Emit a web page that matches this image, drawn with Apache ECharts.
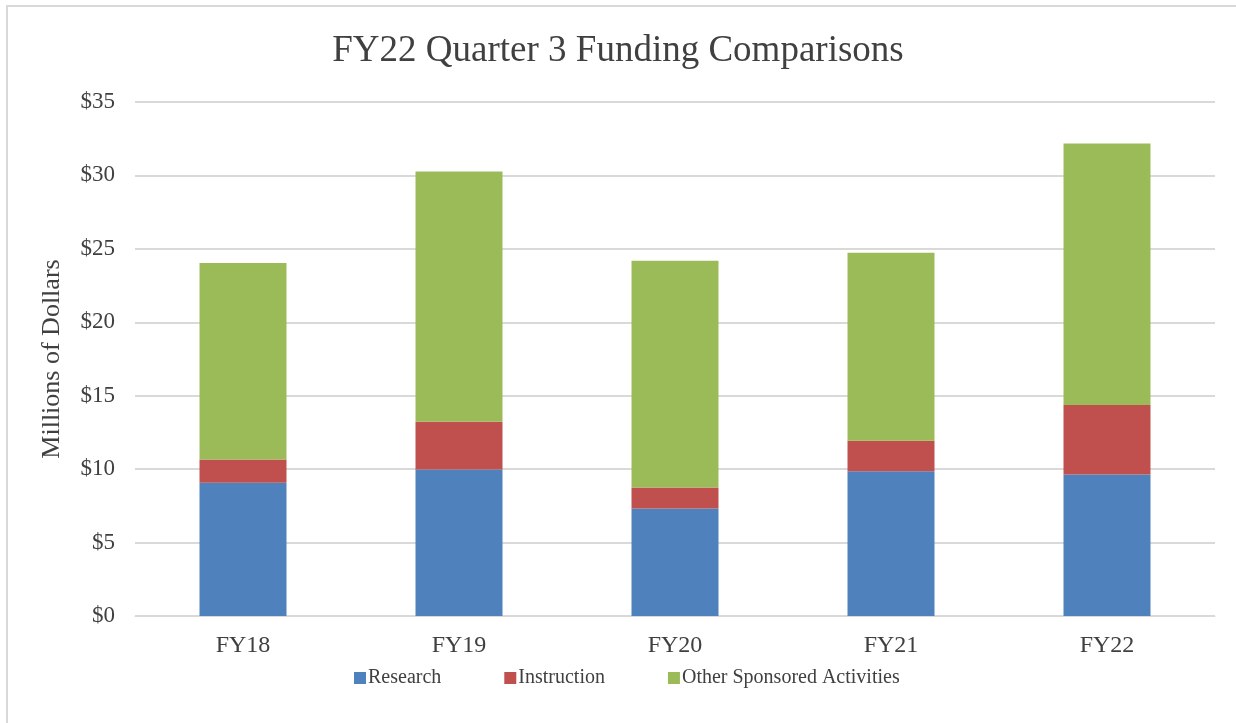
<!DOCTYPE html>
<html>
<head>
<meta charset="utf-8">
<script src="https://cdn.jsdelivr.net/npm/echarts@6/dist/echarts.min.js"></script>
<style>
html, body { margin: 0; padding: 0; background: #fff; }
#frame {
  position: absolute; left: 6px; top: 5px; width: 1240px; height: 730px;
  border-left: 2px solid #d9d9d9; border-top: 2px solid #d9d9d9;
}
#chart { position: absolute; left: 0; top: 0; width: 1236px; height: 723px; }
</style>
</head>
<body>
<div id="frame"></div>
<div id="chart"></div>
<script>
// fiscal years
const categories = ['FY18', 'FY19', 'FY20', 'FY21', 'FY22']
// millions of dollars, stacked
const research = [9.07, 9.98, 7.32, 9.86, 9.64]
const instruction = [1.59, 3.25, 1.43, 2.07, 4.73]
const otherSponsored = [13.37, 17.03, 15.44, 12.80, 17.80]

const serif = '"Liberation Serif", "DejaVu Serif", serif'
const textColor = '#404040'

const chart = echarts.init(document.getElementById('chart'))
const option = {
  backgroundColor: 'transparent',
  animation: false,
  textStyle: { fontFamily: serif },
  title: {
    text: 'FY22 Quarter 3 Funding Comparisons',
    left: 'center',
    top: 28,
    textStyle: { fontFamily: serif, fontSize: 37, fontWeight: 'normal', color: textColor }
  },
  legend: {
    bottom: 30,
    left: 349,
    itemWidth: 12,
    itemHeight: 12,
    itemGap: 63,
    icon: 'rect',
    textStyle: { fontFamily: serif, fontSize: 20, color: textColor, padding: [0, 0, 0, -3] },
    data: ['Research', 'Instruction', 'Other Sponsored Activities']
  },
  grid: {
    left: 135,
    right: 21,
    top: 102,
    bottom: 107
  },
  xAxis: {
    type: 'category',
    data: categories,
    axisTick: { show: false },
    axisLine: { lineStyle: { color: '#d9d9d9', width: 1 } },
    axisLabel: { fontFamily: serif, fontSize: 24, color: textColor, margin: 18 }
  },
  yAxis: {
    type: 'value',
    min: 0,
    max: 35,
    interval: 5,
    name: 'Millions of Dollars',
    nameLocation: 'middle',
    nameGap: 70,
    nameTextStyle: { fontFamily: serif, fontSize: 26, color: textColor },
    axisLine: { show: false },
    axisTick: { show: false },
    splitLine: { lineStyle: { color: '#d9d9d9', width: 2 } },
    axisLabel: {
      fontFamily: serif,
      fontSize: 23,
      color: textColor,
      margin: 20,
      formatter: (val) => '$' + val
    }
  },
  series: [{
    name: 'Research',
    type: 'bar',
    stack: 'total',
    barWidth: 87,
    data: research,
    itemStyle: { color: '#4f81bd' }
  }, {
    name: 'Instruction',
    type: 'bar',
    stack: 'total',
    data: instruction,
    itemStyle: { color: '#c0504d' }
  }, {
    name: 'Other Sponsored Activities',
    type: 'bar',
    stack: 'total',
    data: otherSponsored,
    itemStyle: { color: '#9bbb59' }
  }]
}
chart.setOption(option)
</script>
</body>
</html>
